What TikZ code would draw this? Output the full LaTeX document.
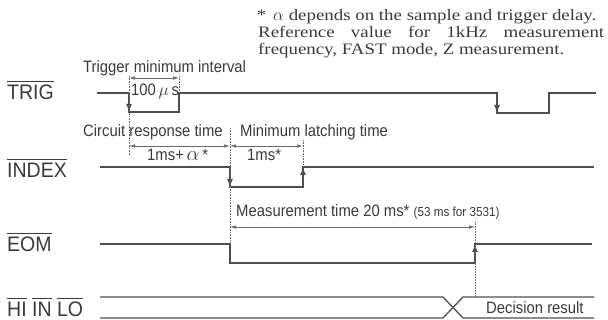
\documentclass[tikz,border=0pt]{standalone}
\usepackage{fontspec}
\setmainfont{Liberation Serif}
\setsansfont{Liberation Sans}
\newfontfamily\notefont[FakeStretch=1.18]{Liberation Serif}
\newfontfamily\lblfont[FakeStretch=0.9]{Liberation Sans}
\newfontfamily\sigfont[FakeStretch=0.93]{Liberation Sans}
\usetikzlibrary{arrows.meta}
\definecolor{tdline}{RGB}{78,78,78}
\definecolor{tddim}{RGB}{105,105,105}
\definecolor{tdtext}{RGB}{58,58,58}
\newsavebox{\ovlbox}
\newcommand{\ovl}[1]{\sbox{\ovlbox}{#1}\rlap{\rule[\dimexpr\ht\ovlbox+3.5pt\relax]{\wd\ovlbox}{0.9pt}}\usebox{\ovlbox}}

\begin{document}
\begin{tikzpicture}[x=1pt,y=-1pt,>={Latex[length=8pt,width=6pt]},font=\sffamily,text=tdtext,
    sig/.style={draw=tdline,line width=1.3pt},
    dimline/.style={draw=tddim,line width=0.6pt,{Latex[length=6pt,width=3.5pt]}-{Latex[length=6pt,width=3.5pt]}},
    guide/.style={draw=tddim,densely dotted,line width=0.6pt},
    signame/.style={anchor=base west,inner sep=0pt,font=\sigfont\fontsize{21}{21}\selectfont},
    lbl/.style={anchor=base west,inner sep=0pt,font=\lblfont\fontsize{16.5}{16.5}\selectfont},
    notetext/.style={anchor=base west,inner sep=0pt,font=\notefont\fontsize{16}{16}\selectfont}]
    \useasboundingbox (0,0) rectangle (608,320);
    % footnote
    \node[notetext] (note1) at (273,21) {\llap{*\hspace{7pt}}$\alpha$ depends on the sample and trigger delay.};
    \node[notetext] (note2) at (258,38) {\makebox[346pt][s]{Reference value for 1kHz measurement}};
    \node[notetext] (note3) at (258,55) {frequency, FAST mode, Z measurement.};
    % signal names
    \node[signame] (trig) at (7,100) {\ovl{TRIG}};
    \node[signame] (index) at (7,178) {\ovl{INDEX}};
    \node[signame] (eom) at (7,252) {\ovl{EOM}};
    \node[signame] (judge) at (7,317) {\ovl{HI} \ovl{IN} \ovl{LO}};
    % edge positions
    \coordinate (tA) at (129,93);
    \coordinate (tB) at (179,93);
    \coordinate (iA) at (230,167);
    \coordinate (iB) at (303,167);
    \coordinate (eB) at (475,244);
    % TRIG
    \draw[sig] (97,93) -- (tA) -- (129,112) -- (179,112) -- (tB) -- (497,93) -- (497,113) -- (549,113) -- (549,93) -- (596,93);
    \draw[sig,->] (tA) -- (129,112);
    \draw[sig,->] (497,93) -- (497,113);
    % INDEX
    \draw[sig] (100,167) -- (iA) -- (230,187) -- (303,187) -- (iB) -- (594,167);
    \draw[sig,->] (iA) -- (230,187);
    \draw[sig,->] (303,187) -- (iB);
    % EOM
    \draw[sig] (100,244) -- (230,244) -- (230,263) -- (475,263) -- (eB) -- (592,244);
    \draw[sig,->] (475,263) -- (eB);
    % HI / IN / LO
    \draw[sig] (100,297) -- (443,297) -- (463,318) -- (594,318);
    \draw[sig] (100,318) -- (443,318) -- (463,297) -- (594,297);
    % guides
    \draw[guide] (129,76) -- (129,156);
    \draw[guide] (179,76) -- (tB);
    \draw[guide] (230,128) -- (230,244);
    \draw[guide] (303,140) -- (iB);
    \draw[guide] (475,221) -- (475,297);
    % dimensions
    \draw[dimline] (129,78) -- (179,78);
    \draw[dimline] (129,146) -- (230,146);
    \draw[dimline] (230,146) -- (303,146);
    \draw[dimline] (230,227) -- (475,227);
    % labels
    \node[lbl] (tmin) at (83,73) {Trigger minimum interval};
    \node[lbl] (tval) at (131,96) {100\,{\fontsize{18}{18}\selectfont$\mu$}\,s};
    \node[lbl] (resp) at (83,137) {Circuit response time};
    \node[lbl] (respval) at (147,161) {1ms+\,{\fontsize{20}{20}\selectfont$\alpha$}\,*};
    \node[lbl] (latch) at (240,137) {Minimum latching time};
    \node[lbl] (latchval) at (247,161) {1ms*};
    \node[lbl] (meas) at (236,217) {Measurement time 20 ms* {\fontsize{13}{13}\selectfont(53 ms for 3531)}};
    \node[lbl] (result) at (486,314) {Decision result};
\end{tikzpicture}
\end{document}
